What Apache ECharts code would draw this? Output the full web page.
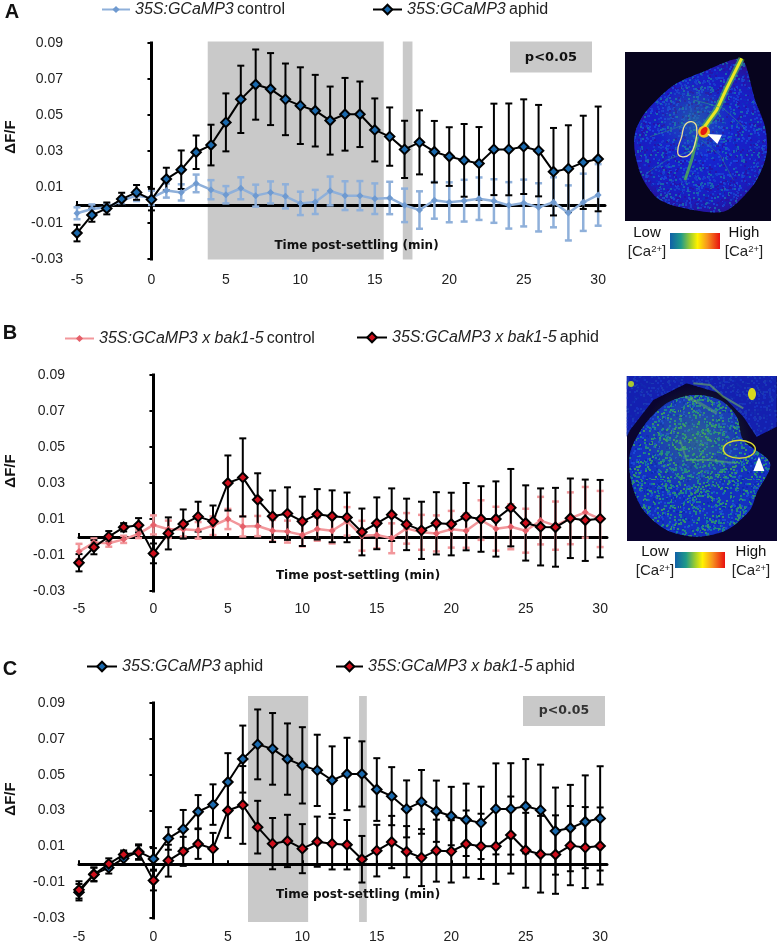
<!DOCTYPE html>
<html><head><meta charset="utf-8">
<style>html,body{margin:0;padding:0;background:#fff}#c{width:777px;height:944px}</style>
<script src="https://cdn.jsdelivr.net/npm/echarts@6/dist/echarts.min.js"></script>
</head><body><div id="c"></div>
<script>
const minutes = [-5,-4,-3,-2,-1,0,1,2,3,4,5,6,7,8,9,10,11,12,13,14,15,16,17,18,19,20,21,22,23,24,25,26,27,28,29,30];
const xTickValues = [-5,0,5,10,15,20,25,30];
const yTickValues = [-0.03,-0.01,0.01,0.03,0.05,0.07,0.09];

const wtAphid = [-.0156,-.0056,-.0019,.0033,.0070,.0030,.0144,.0196,.0293,.0333,.0459,.0587,.0669,.0644,.0587,.0552,.0524,.0469,.0504,.0504,.0417,.0380,.0309,.0348,.0296,.0269,.0248,.0231,.0309,.0309,.0324,.0302,.0185,.0202,.0237,.0256];
const wtAphidErr = [.0046,.0037,.0033,.0035,.0041,.0060,.0063,.0107,.0093,.0113,.0161,.0187,.0195,.0200,.0199,.0213,.0199,.0189,.0202,.0182,.0175,.0162,.0159,.0178,.0171,.0163,.0202,.0202,.0254,.0255,.0263,.0254,.0243,.0241,.0259,.0291];
const wtControl = [-.0046,-.0022,-.0013,.0024,.0052,.0040,.0080,.0070,.0120,.0085,.0057,.0093,.0052,.0070,.0048,.0009,.0017,.0078,.0052,.0052,.0035,.0039,-.0002,-.0028,.0026,.0015,.0024,.0035,.0022,-.0002,.0011,-.0013,.0015,-.0044,.0015,.0056];
const wtControlErr = [.0033,.0025,.0020,.0020,.0030,.0040,.0039,.0045,.0049,.0053,.0048,.0061,.0061,.0061,.0067,.0065,.0067,.0080,.0080,.0081,.0085,.0090,.0093,.0104,.0102,.0111,.0116,.0118,.0121,.0129,.0130,.0134,.0139,.0153,.0159,.0171];
const bakAphid = [-.0143,-.0057,.0002,.0054,.0065,-.0091,.0020,.0072,.0113,.0087,.0300,.0331,.0207,.0115,.0130,.0087,.0126,.0115,.0109,.0028,.0076,.0124,.0070,.0037,.0076,.0072,.0113,.0100,.0100,.0163,.0078,.0056,.0054,.0104,.0093,.0102];
const bakAphidErr = [.0048,.0039,.0031,.0023,.0040,.0055,.0089,.0081,.0083,.0088,.0153,.0217,.0147,.0143,.0146,.0137,.0140,.0144,.0138,.0130,.0144,.0146,.0143,.0159,.0173,.0174,.0187,.0182,.0209,.0215,.0209,.0214,.0219,.0221,.0226,.0215];
const bakControl = [-.0081,-.0031,-.0035,-.0013,.0017,.0067,.0043,.0043,.0037,.0063,.0100,.0059,.0061,.0035,.0030,.0011,.0044,.0035,.0087,.0007,.0011,-.0007,.0048,.0026,.0020,.0043,.0035,.0094,.0046,.0057,.0035,.0091,.0063,.0104,.0137,.0100];
const bakControlErr = [.0043,.0023,.0019,.0020,.0023,.0053,.0048,.0040,.0046,.0052,.0056,.0056,.0056,.0060,.0061,.0063,.0065,.0071,.0079,.0083,.0074,.0083,.0085,.0097,.0100,.0102,.0095,.0110,.0122,.0125,.0122,.0132,.0134,.0144,.0141,.0156];

const bandsA = [[3.78,15.6],[16.88,17.53]];
const bandsC = [[6.35,10.39],[13.81,14.33]];
const bandYA = [-0.0303,0.0909];
const bandYC = [-0.0322,0.0939];

const NAME_WC='35S:GCaMP3 control', NAME_WA='35S:GCaMP3 aphid', NAME_BC='35S:GCaMP3 x bak1-5 control', NAME_BA='35S:GCaMP3 x bak1-5 aphid';
const SANS='"Liberation Sans",Arial,sans-serif', TAH='"DejaVu Sans",Verdana,sans-serif';
const XMAX=30.46, YMIN=-0.03, YMAX=0.09;

const grids=[{left:77,top:43,width:528,height:216},{left:79,top:375,width:528,height:216},{left:79,top:703,width:528,height:216}];
const labelMargins=[14,11,12];
const xAxes=[],yAxes=[];
grids.forEach((g,i)=>{
  xAxes.push({gridIndex:i,type:'value',position:'bottom',min:-5,max:XMAX,splitLine:{show:false},
    axisLine:{show:false,onZero:false},axisTick:{show:false},
    axisLabel:{margin:labelMargins[i],fontFamily:SANS,fontSize:14,color:'#222',customValues:xTickValues}});
  xAxes.push({gridIndex:i,type:'value',position:'top',min:-5,max:XMAX,z:1,splitLine:{show:false},
    axisLine:{show:true,onZero:true,lineStyle:{color:'#000',width:3}},
    axisTick:{show:true,length:4,lineStyle:{color:'#000',width:2},customValues:xTickValues},
    axisLabel:{show:false}});
  yAxes.push({gridIndex:i,type:'value',position:'left',min:YMIN,max:YMAX,splitLine:{show:false},
    axisLine:{show:false,onZero:false},axisTick:{show:false},
    axisLabel:{margin:14,fontFamily:SANS,fontSize:14,color:'#222',customValues:yTickValues,formatter:v=>v.toFixed(2)}});
  yAxes.push({gridIndex:i,type:'value',position:'right',min:YMIN,max:YMAX,z:1,splitLine:{show:false},
    axisLine:{show:true,onZero:true,lineStyle:{color:'#000',width:3,cap:'square'}},
    axisTick:{show:true,inside:true,length:4,lineStyle:{color:'#000',width:2},customValues:yTickValues},
    axisLabel:{show:false}});
});

function bandSeries(g,bands,yr){
  return {type:'custom',name:'band',silent:true,z:0,xAxisIndex:2*g,yAxisIndex:2*g,
    data:bands.map(b=>[b[0],b[1],yr[0],yr[1]]),encode:{x:[0,1],y:[2,3]},
    renderItem:(p,api)=>{const a=api.coord([api.value(0),api.value(3)]),b=api.coord([api.value(1),api.value(2)]);
      return {type:'rect',shape:{x:a[0],y:a[1],width:b[0]-a[0],height:b[1]-a[1]},style:{fill:'#c9c9c9'}};}};
}
function errSeries(g,means,errs,color,w){
  return {type:'custom',name:'err',silent:true,z:2,xAxisIndex:2*g,yAxisIndex:2*g,
    data:minutes.map((m,i)=>[m,means[i]-errs[i],means[i]+errs[i]]),encode:{x:0,y:[1,2]},
    renderItem:(p,api)=>{const a=api.coord([api.value(0),api.value(1)]),b=api.coord([api.value(0),api.value(2)]);
      const st={stroke:color,lineWidth:w,fill:null},c=3.5;
      return {type:'group',children:[
        {type:'line',shape:{x1:a[0],y1:a[1],x2:b[0],y2:b[1]},style:st},
        {type:'line',shape:{x1:a[0]-c,y1:a[1],x2:a[0]+c,y2:a[1]},style:st},
        {type:'line',shape:{x1:b[0]-c,y1:b[1],x2:b[0]+c,y2:b[1]},style:st}]};}};
}
function lineSeries(g,name,means,lineColor,lw,fill,size,border){
  return {type:'line',name,z:2,xAxisIndex:2*g,yAxisIndex:2*g,data:minutes.map((m,i)=>[m,means[i]]),
    symbol:'diamond',symbolSize:size,showSymbol:true,showAllSymbol:true,
    lineStyle:{color:lineColor,width:lw},
    itemStyle:{color:fill,borderColor:border?'#000':fill,borderWidth:border?2:0,opacity:1},
    emphasis:{disabled:true}};
}
const LBLUE='#8fb0da',LBLUE_M='#6f9ad0',DBLUE='#1a69ad',PINK='#f2979b',PINK_M='#e5606a',RED='#cf0f1c';
const series=[
  bandSeries(0,bandsA,bandYA),
  errSeries(0,wtControl,wtControlErr,LBLUE,2.5),lineSeries(0,NAME_WC,wtControl,LBLUE,2.5,LBLUE_M,7,false),
  errSeries(0,wtAphid,wtAphidErr,'#000',2),lineSeries(0,NAME_WA,wtAphid,'#000',2,DBLUE,9.5,true),
  errSeries(1,bakControl,bakControlErr,PINK,2.5),lineSeries(1,NAME_BC,bakControl,PINK,2.5,PINK_M,7,false),
  errSeries(1,bakAphid,bakAphidErr,'#000',2),lineSeries(1,NAME_BA,bakAphid,'#000',2,RED,9.5,true),
  bandSeries(2,bandsC,bandYC),
  errSeries(2,wtAphid,wtAphidErr,'#000',2),lineSeries(2,NAME_WA,wtAphid,'#000',2,DBLUE,9.5,true),
  errSeries(2,bakAphid,bakAphidErr,'#000',2),lineSeries(2,NAME_BA,bakAphid,'#000',2,RED,9.5,true)
];

function legendItem(name,left,cy,iconW,iconH){
  const m=name.match(/^(.*?) (control|aphid)$/);
  const fmt=name.includes(' x ')?'{i|35S:GCaMP3 x bak1-5} {r|'+m[2]+'}':'{i|35S:GCaMP3} {r|'+m[2]+'}';
  return {show:true,orient:'horizontal',left,top:cy-6.5,padding:0,selectedMode:false,data:[name],
    itemWidth:iconW,itemHeight:iconH,formatter:()=>fmt,
    textStyle:{rich:{i:{fontFamily:SANS,fontSize:16,fontStyle:'italic',color:'#222',lineHeight:20},
                     r:{fontFamily:SANS,fontSize:16,color:'#222',lineHeight:20}}}};
}
const legends=[
  legendItem(NAME_WC,101,8,28,9),legendItem(NAME_WA,372,8,29,12),
  legendItem(NAME_BC,64,337,29,9),legendItem(NAME_BA,356,336,30,12),
  legendItem(NAME_WA,86,665,30,12),legendItem(NAME_BA,335,665,27,12)
];

/* ---- micrograph texture: decorative only ---- */
function speck(colors,n,sz){
  const s=96,cv=document.createElement('canvas');cv.width=cv.height=s;const c=cv.getContext('2d');
  let h=12345;
  const nx=()=>{h=(h*1103515245+12345)&0x7fffffff;return h/0x7fffffff;};
  for(let i=0;i<n;i++){c.fillStyle=colors[Math.floor(nx()*colors.length)];c.fillRect(Math.floor(nx()*s),Math.floor(nx()*s),sz,sz);}
  return {image:cv,repeat:'repeat'};
}
const zA=p=>p.map(q=>[610+q[0]/3,40+q[1]/3]);
const zB=p=>p.map(q=>[610+q[0]/3,360+q[1]/3]);
const leafA=zA([[75,280],[100,225],[140,180],[200,130],[280,95],[385,55],[405,70],[435,180],[465,260],[470,340],[440,420],[390,480],[340,515],[250,510],[150,480],[100,420],[75,340]]);
const leafB=zB([[60,280],[100,200],[170,130],[250,105],[330,120],[380,170],[400,240],[480,310],[440,400],[420,450],[350,510],[260,530],[170,510],[100,450],[65,370]]);
const rampStops=[{offset:0,color:'#1060a8'},{offset:.22,color:'#1f9a8a'},{offset:.4,color:'#9ccc30'},{offset:.55,color:'#fff200'},{offset:.75,color:'#f7931e'},{offset:1,color:'#e81010'}];
const ramp={type:'linear',x:0,y:0,x2:1,y2:0,colorStops:rampStops};

function txt(x,y,text,font,extra){return Object.assign({type:'text',x,y,z:20,style:{text,font,fill:'#111',align:'center',verticalAlign:'middle'}},extra||{});}
function caLabel(x,y){return {type:'text',x,y,z:20,style:{text:'[Ca{s|2+}]',align:'center',verticalAlign:'middle',font:'15px '+SANS,fill:'#222',
  rich:{s:{fontSize:9.5,fontFamily:SANS,verticalAlign:'top',padding:[0,0,6,0],fill:'#222'}}}};}
function vein(conv,pts,color,w,op){return {type:'polyline',z:8,shape:{points:conv(pts)},style:{stroke:color,lineWidth:w,fill:null,opacity:op}};}

const graphics=[
  txt(12,12,'A','bold 20px '+SANS),txt(10,333,'B','bold 20px '+SANS),txt(10,669,'C','bold 20px '+SANS),
  txt(11,137,'\u0394F/F','bold 15px '+SANS,{rotation:Math.PI/2}),
  txt(11,471,'\u0394F/F','bold 15px '+SANS,{rotation:Math.PI/2}),
  txt(11,799,'\u0394F/F','bold 15px '+SANS,{rotation:Math.PI/2}),
  txt(356.5,246,'Time post-settling (min)','bold 12px '+TAH),
  txt(358,576,'Time post-settling (min)','bold 12px '+TAH),
  txt(358,895,'Time post-settling (min)','bold 12px '+TAH),
  {type:'rect',z:1,shape:{x:510,y:41.5,width:82,height:31},style:{fill:'#c9c9c9'}},
  txt(551,58,'p<0.05','bold 13px '+TAH),
  {type:'rect',z:1,shape:{x:523,y:696,width:82,height:30},style:{fill:'#c9c9c9'}},
  txt(564,711,'p<0.05','bold 12.5px '+TAH,{style:{text:'p<0.05',font:'600 12.5px '+TAH,fill:'#333',align:'center',verticalAlign:'middle'}}),

  /* image A */
  {type:'rect',z:5,shape:{x:625,y:52,width:146,height:169},style:{fill:'#07041e'}},
  {type:'polygon',z:6,shape:{points:leafA,smooth:.3},style:{fill:{type:'radial',x:.5,y:.5,r:.65,colorStops:[{offset:0,color:'#1428d8'},{offset:.75,color:'#1a1cc0'},{offset:1,color:'#2a0f88'}]}}},
  {type:'polygon',z:7,shape:{points:leafA,smooth:.3},style:{fill:speck(['#1a50e0','#1848d0','#1880a8','#2a10a0','#0a30c0'],1300,2),opacity:.7}},
  {type:'circle',z:7,shape:{cx:695,cy:120,r:38},style:{fill:{type:'radial',x:.5,y:.5,r:.5,colorStops:[{offset:0,color:'rgba(60,170,110,.35)'},{offset:1,color:'rgba(60,170,110,0)'}]}}},
  vein(zA,[[282,262],[320,210],[350,145],[395,55]],'#55d040',6.5,.55),
  vein(zA,[[282,262],[320,210],[350,145],[395,55]],'#e8e820',3,1),
  vein(zA,[[262,290],[245,360],[225,420]],'#58c840',3,.7),
  vein(zA,[[250,180],[290,190],[340,205],[400,260]],'#30a080',1,.55),
  vein(zA,[[120,290],[180,270],[260,240]],'#30a080',1,.45),
  vein(zA,[[110,400],[170,360],[250,330]],'#30a080',1,.45),
  vein(zA,[[275,300],[330,345],[370,420]],'#30a080',1,.45),
  {type:'circle',z:8,shape:{cx:610+282/3,cy:40+275/3,r:6},style:{fill:'#f0c020'}},
  {type:'ellipse',z:9,shape:{cx:0,cy:0,rx:3,ry:4.5},x:610+282/3,y:40+273/3,rotation:-.6,style:{fill:'#e81a10'}},
  {type:'polygon',z:10,shape:{points:zA([[292,282],[336,284],[322,312]])},style:{fill:'#fff'}},
  {type:'polygon',z:9,shape:{points:zA([[225,255],[245,245],[260,262],[255,310],[240,342],[215,350],[203,335],[215,290]]),smooth:.5},style:{fill:null,stroke:'#eedf98',lineWidth:1.3}},
  {type:'rect',z:8,shape:{x:670,y:233,width:50,height:16},style:{fill:ramp}},
  txt(647,233,'Low','15px '+SANS),caLabel(647,252),txt(744,233,'High','15px '+SANS),caLabel(744,252),

  /* image B */
  {type:'rect',z:5,shape:{x:627,y:376,width:150,height:165},style:{fill:'#0a0430'}},
  {type:'polygon',z:6,shape:{points:zB([[50,48],[500,48],[500,200],[440,230],[400,170],[330,100],[230,70],[130,120],[60,210],[50,230]])},style:{fill:'#1420b0'}},
  {type:'polygon',z:6,shape:{points:leafB,smooth:.3},style:{fill:'#1430c0'}},
  {type:'polygon',z:7,shape:{points:zB([[50,48],[500,48],[500,200],[440,230],[400,170],[330,100],[230,70],[130,120],[60,210],[50,230]])},style:{fill:speck(['#1a40d0','#1030b0','#2050b8'],900,2),opacity:.5}},
  {type:'polygon',z:7,shape:{points:leafB,smooth:.3},style:{fill:speck(['#1a50d8','#128a9a','#249a70','#1030c0','#3aa858','#0a28b0'],1500,2),opacity:.8}},
  {type:'circle',z:7,shape:{cx:610+260/3,cy:360+240/3,r:55},style:{fill:{type:'radial',x:.5,y:.5,r:.5,colorStops:[{offset:0,color:'rgba(90,190,70,.35)'},{offset:1,color:'rgba(90,190,70,0)'}]}}},
  vein(zB,[[210,240],[230,300],[300,300],[380,310]],'#70cc50',2,.4),
  vein(zB,[[225,110],[270,130],[320,160]],'#70cc50',3,.4),
  vein(zB,[[250,70],[300,75],[340,110],[400,145]],'#80d050',2,.5),
  {type:'ellipse',z:8,shape:{cx:752,cy:394,rx:4,ry:6},style:{fill:'#d8d820'}},
  {type:'circle',z:8,shape:{cx:631,cy:384,r:3},style:{fill:'#a8c830'}},
  {type:'ellipse',z:9,shape:{cx:610+388/3,cy:360+268/3,rx:16,ry:9},style:{fill:null,stroke:'#d8d830',lineWidth:1.5}},
  {type:'polygon',z:10,shape:{points:zB([[447,290],[430,333],[463,333]])},style:{fill:'#fff'}},
  {type:'rect',z:8,shape:{x:675,y:552,width:50,height:16},style:{fill:ramp}},
  txt(655,552,'Low','15px '+SANS),caLabel(655,571),txt(751,552,'High','15px '+SANS),caLabel(751,571)
];

const chart=echarts.init(document.getElementById('c'),null,{renderer:'canvas'});
chart.setOption({animation:false,backgroundColor:'#fff',tooltip:{show:false},
  grid:grids,xAxis:xAxes,yAxis:yAxes,legend:legends,series,graphic:{elements:graphics}});
</script></body></html>
